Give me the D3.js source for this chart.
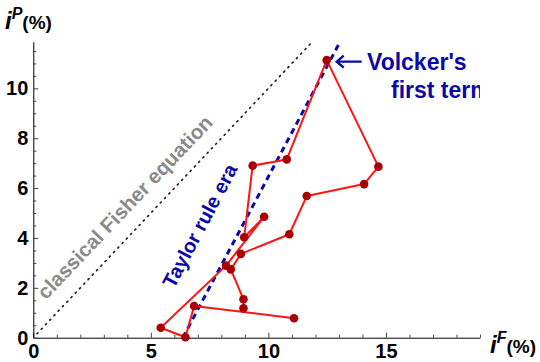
<!DOCTYPE html>
<html><head><meta charset="utf-8">
<script src="https://cdn.jsdelivr.net/npm/d3@7"></script>
<style>body{margin:0;background:#fff}svg{display:block}svg text{font-family:"Liberation Sans",Arial,sans-serif;font-weight:bold}</style>
</head><body>
<svg id="c" width="540" height="362"></svg>
<script>
// i^F (%) and i^P (%) of each observation, in path order
const iF = [8.94, 8.94, 8.40, 8.83, 10.89, 11.63, 14.07, 14.68, 12.48, 10.78, 9.33, 8.97, 9.82, 8.20, 5.42, 6.47, 6.84, 11.09];
const iP = [1.18, 1.54, 2.74, 3.36, 4.15, 5.68, 6.16, 6.86, 11.13, 7.15, 6.90, 4.03, 4.85, 2.89, 0.40, 0.02, 1.27, 0.78];
const xTickLabels = [0, 5, 10, 15];
const yTickLabels = [0, 2, 4, 6, 8, 10];
const fisherLine = [[0.16, 0.16], [11.9, 11.9]];
const taylorLine = [[6.36, 0.0], [13.05, 11.87]];

const svg = d3.select("#c");
const x = d3.scaleLinear().domain([0, 19]).range([33.3, 480]);
const y = d3.scaleLinear().domain([0, 11.87]).range([337.7, 41.7]);

svg.append("defs").append("clipPath").attr("id", "clip")
  .append("rect").attr("x", 0).attr("y", 0).attr("width", 480).attr("height", 362);

// x axis
const xa = svg.append("g").attr("transform", `translate(0,${y(0)})`)
  .call(d3.axisBottom(x).tickValues(d3.range(0, 20, 1)).tickSizeInner(-3).tickSizeOuter(0).tickPadding(6)
    .tickFormat(d => xTickLabels.includes(d) ? d : ""));
xa.selectAll(".tick line").attr("y2", d => xTickLabels.includes(d) ? -5 : -3).attr("stroke", "#444");
xa.selectAll(".tick text").attr("y", 6).attr("dy", "0.71em").style("font-size", "20px").attr("fill", "#000");
xa.select(".domain").attr("stroke", "#000");

// y axis
const ya = svg.append("g").attr("transform", `translate(${x(0)},0)`)
  .call(d3.axisLeft(y).tickValues(d3.range(0, 11.6, 0.5)).tickSizeInner(-3).tickSizeOuter(0).tickPadding(6)
    .tickFormat(d => yTickLabels.includes(d) ? d : ""));
ya.selectAll(".tick line").attr("x2", d => yTickLabels.includes(d) ? 5 : 3).attr("stroke", "#444");
ya.selectAll(".tick text").attr("x", -5).style("font-size", "20px").attr("fill", "#000");
ya.select(".domain").attr("stroke", "#000");

const line = d3.line().x(d => x(d[0])).y(d => y(d[1]));

// classical Fisher line
svg.append("path").attr("d", line(fisherLine)).attr("fill", "none")
  .attr("stroke", "#222").attr("stroke-width", 1.7).attr("stroke-dasharray", "1.2 5").attr("stroke-linecap", "round");

// Taylor rule line
svg.append("path").attr("d", line(taylorLine)).attr("fill", "none")
  .attr("stroke", "#0a0aa8").attr("stroke-width", 3).attr("stroke-dasharray", "6 4.5");

// data path
const pts = iF.map((v, i) => [v, iP[i]]);
svg.append("path").attr("d", line(pts)).attr("fill", "none")
  .attr("stroke", "#ff1414").attr("stroke-width", 2).attr("stroke-linejoin", "round");
svg.append("g").selectAll("circle").data(pts).join("circle")
  .attr("cx", d => x(d[0])).attr("cy", d => y(d[1])).attr("r", 4.3).attr("fill", "#a80000");

// labels
svg.append("text").attr("transform", "translate(130,212) rotate(-46.5)")
  .attr("text-anchor", "middle").attr("fill", "#8a8a8a").style("font-size", "20.5px")
  .text("classical Fisher equation");
svg.append("text").attr("transform", "translate(206,229) rotate(-62)")
  .attr("text-anchor", "middle").attr("fill", "#0a0aa8").style("font-size", "20px")
  .text("Taylor rule era");

const ann = svg.append("g").attr("clip-path", "url(#clip)");
ann.append("text").attr("x", 367).attr("y", 70).attr("fill", "#0a0aa8").style("font-size", "23px").text("Volcker's");
ann.append("text").attr("x", 391).attr("y", 98).attr("fill", "#0a0aa8").style("font-size", "23px").text("first term");
// arrow
const ax0 = x(12.48) + 10, ay = y(11.13) + 1.5;
ann.append("path").attr("d", `M${ax0 + 25},${ay}H${ax0} M${ax0 + 7},${ay - 6}L${ax0},${ay}L${ax0 + 7},${ay + 6}`)
  .attr("fill", "none").attr("stroke", "#0a0aa8").attr("stroke-width", 2.4);

// axis titles
const t1 = svg.append("text").attr("x", 5).attr("y", 29).attr("fill", "#000");
t1.append("tspan").style("font-size", "24px").style("font-style", "italic").text("i");
t1.append("tspan").style("font-size", "16px").style("font-style", "italic").attr("dy", -10).text("P");
t1.append("tspan").style("font-size", "19px").attr("dy", 10).text("(%)");
const t2 = svg.append("text").attr("x", 490).attr("y", 353).attr("fill", "#000");
t2.append("tspan").style("font-size", "24px").style("font-style", "italic").text("i");
t2.append("tspan").style("font-size", "16px").style("font-style", "italic").attr("dy", -10).text("F");
t2.append("tspan").style("font-size", "19px").attr("dy", 10).text("(%)");
</script>
</body></html>
